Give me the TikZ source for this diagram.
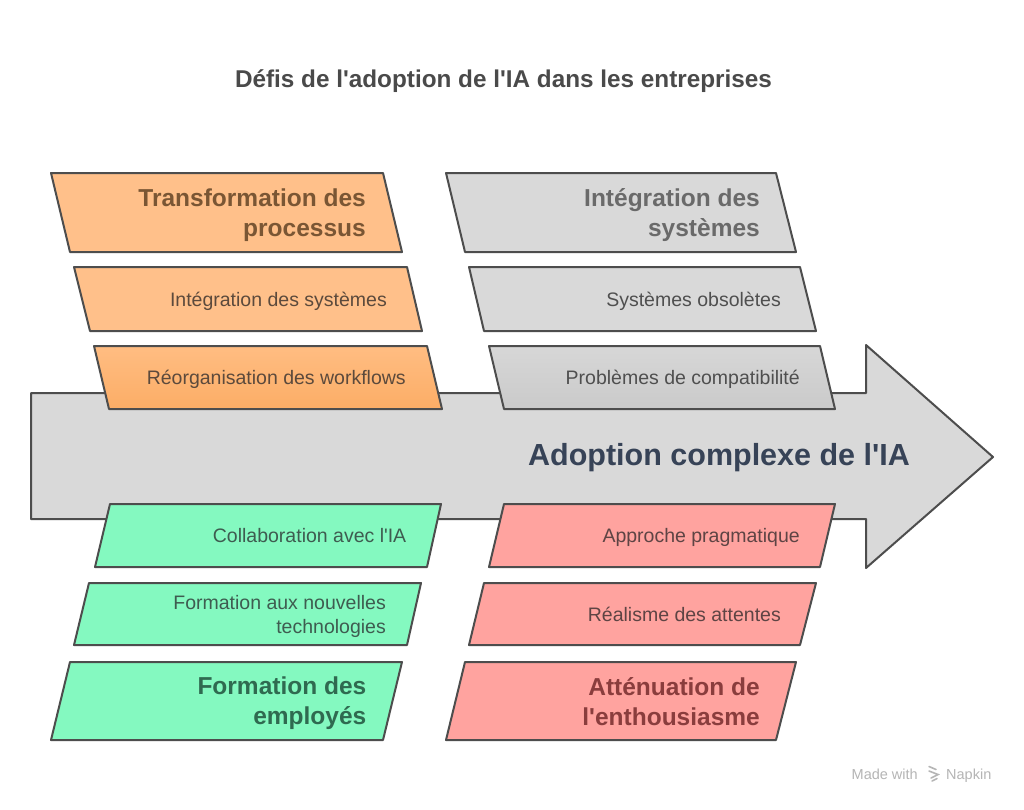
\documentclass[tikz,border=0pt]{standalone}
\usepackage{fontspec}
\setmainfont{Liberation Sans}
\newcommand{\apos}{\textquotesingle}
\definecolor{strokegray}{HTML}{4D4D4D}
\definecolor{arrowfill}{HTML}{D9D9D9}
\definecolor{orangefill}{HTML}{FFC08A}
\definecolor{orangetop}{HTML}{FFBD82}
\definecolor{orangebot}{HTML}{FCAD66}
\definecolor{grayfill}{HTML}{D9D9D9}
\definecolor{graytop}{HTML}{D7D7D7}
\definecolor{graybot}{HTML}{CACACA}
\definecolor{greenfill}{HTML}{84F9C0}
\definecolor{redfill}{HTML}{FFA39F}
\definecolor{orangehd}{HTML}{7A5634}
\definecolor{orangesm}{HTML}{5C4A3C}
\definecolor{grayhd}{HTML}{6A6A6A}
\definecolor{graysm}{HTML}{4F4F4F}
\definecolor{greenhd}{HTML}{2F6A50}
\definecolor{greensm}{HTML}{3E5C50}
\definecolor{redhd}{HTML}{8A3D3D}
\definecolor{redsm}{HTML}{5E4444}
\definecolor{maintext}{HTML}{374357}
\definecolor{titletext}{HTML}{4A4A4A}
\definecolor{marktext}{HTML}{B5B5B5}
\begin{document}
\begin{tikzpicture}[x=1pt,y=-1pt,
  box/.style={draw=strokegray, line width=2pt, line join=round},
  hd/.style={anchor=east, align=right, inner sep=0pt, font=\fontsize{24.5}{30}\selectfont\bfseries},
  sm/.style={anchor=base east, align=right, inner sep=0pt, font=\fontsize{19.5}{24}\selectfont},
  smtwo/.style={anchor=east, align=right, inner sep=0pt, font=\fontsize{19.5}{24}\selectfont},
]
\useasboundingbox (0,0) rectangle (1024,809);
\fill[white] (0,0) rectangle (1024,809);

% title
\node[anchor=base, inner sep=0pt, text=titletext, font=\fontsize{24.3}{28}\selectfont\bfseries] (title) at (503.5,87) {Défis de l\apos adoption de l\apos IA dans les entreprises};

% main arrow
\draw[box, fill=arrowfill] (31,393) -- (866,393) -- (866,345) -- (993,457) -- (866,568) -- (866,519) -- (31,519) -- cycle;
\node[anchor=base, inner sep=0pt, text=maintext, font=\fontsize{30.5}{34}\selectfont\bfseries] (main) at (719,465) {Adoption complexe de l\apos IA};

% orange column (top left)
\draw[box, fill=orangefill] (51,173) -- (383,173) -- (402,252) -- (70,252) -- cycle;
\draw[box, fill=orangefill] (74,267) -- (407,267) -- (422,331) -- (90,331) -- cycle;
\draw[box, top color=orangetop, bottom color=orangebot] (94,346) -- (427,346) -- (442,409) -- (109,409) -- cycle;
\node[hd, text=orangehd] (o1) at (366,215) {Transformation des\\processus};
\node[sm, text=orangesm] (o2) at (387,306) {Intégration des systèmes};
\node[sm, text=orangesm] (o3) at (406,384.5) {Réorganisation des workflows};

% gray column (top right)
\draw[box, fill=grayfill] (446,173) -- (776,173) -- (796,252) -- (465,252) -- cycle;
\draw[box, fill=grayfill] (469,267) -- (800,267) -- (816,331) -- (484,331) -- cycle;
\draw[box, top color=graytop, bottom color=graybot] (489,346) -- (820,346) -- (835,409) -- (504,409) -- cycle;
\node[hd, text=grayhd] (g1) at (760,215) {Intégration des\\systèmes};
\node[sm, text=graysm] (g2) at (781,306) {Systèmes obsolètes};
\node[sm, text=graysm] (g3) at (800,384.5) {Problèmes de compatibilité};

% green column (bottom left)
\draw[box, fill=greenfill] (110,504) -- (441,504) -- (427,567) -- (95,567) -- cycle;
\draw[box, fill=greenfill] (89,583) -- (421,583) -- (407,645) -- (74,645) -- cycle;
\draw[box, fill=greenfill] (70,662) -- (402,662) -- (383,740) -- (51,740) -- cycle;
\node[sm, text=greensm] (e1) at (406.5,542.5) {Collaboration avec l\apos IA};
\node[smtwo, text=greensm] (e2) at (386,616) {Formation aux nouvelles\\technologies};
\node[hd, text=greenhd] (e3) at (366.5,703.5) {Formation des\\employés};

% red column (bottom right)
\draw[box, fill=redfill] (504,504) -- (835,504) -- (820,567) -- (489,567) -- cycle;
\draw[box, fill=redfill] (484,583) -- (816,583) -- (800,645) -- (469,645) -- cycle;
\draw[box, fill=redfill] (465,662) -- (796,662) -- (776,740) -- (446,740) -- cycle;
\node[sm, text=redsm] (r1) at (800,542.5) {Approche pragmatique};
\node[sm, text=redsm] (r2) at (781,621) {Réalisme des attentes};
\node[hd, text=redhd] (r3) at (760,701.5) {Atténuation de\\l\apos enthousiasme};

% watermark
\node[anchor=base west, inner sep=0pt, text=marktext, font=\fontsize{14.5}{16}\selectfont] (made) at (851.5,779) {Made with};
\node[anchor=base west, inner sep=0pt, text=marktext, font=\fontsize{14.5}{16}\selectfont] (napkin) at (946,779) {Napkin};
\begin{scope}[draw=marktext, line width=1.6pt, line cap=round]
  \draw (929,766.5) -- (936,769.5);
  \draw (929,771) -- (938,774.5) -- (931,778);
  \draw (932,781) -- (937,778.5);
\end{scope}
\end{tikzpicture}
\end{document}
